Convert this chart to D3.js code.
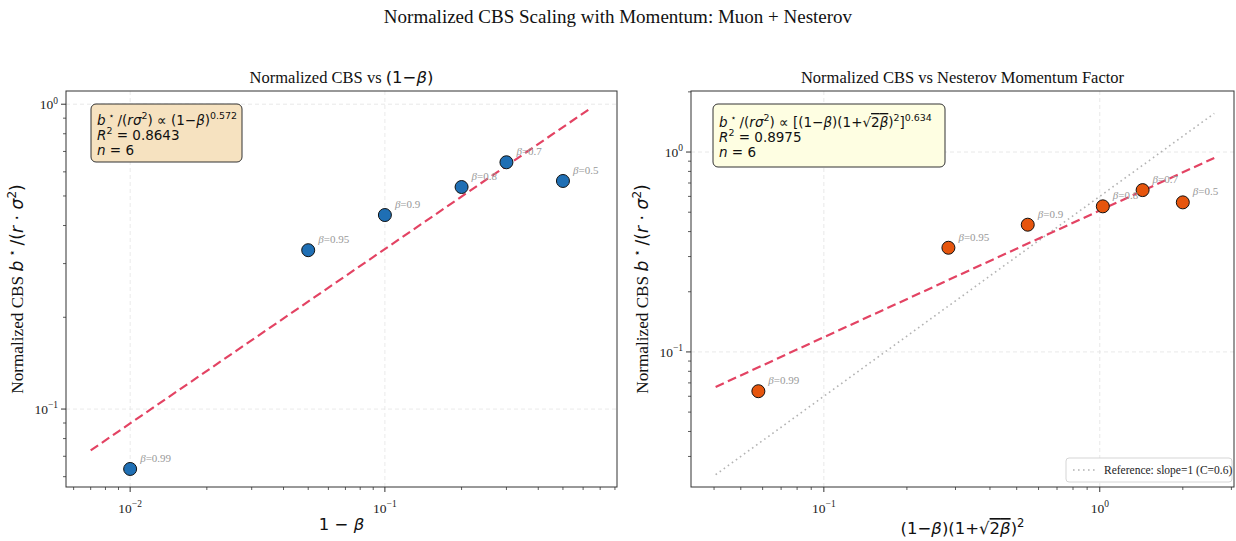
<!DOCTYPE html>
<html>
<head>
<meta charset="utf-8">
<script src="https://cdn.jsdelivr.net/npm/d3@7"></script>
<style>
  body { margin: 0; background: #fff; }
  svg { display: block; }
</style>
</head>
<body>
<div id="chart"></div>
<script>
// données
var betas = [0.99, 0.95, 0.9, 0.8, 0.7, 0.5];
var oneMinusBeta = [0.01, 0.05, 0.1, 0.2, 0.3, 0.5];
var nesterovFactor = [0.0579, 0.2828, 0.5483, 1.026, 1.430, 2.0];
var cbsNorm = [0.0636, 0.332, 0.433, 0.535, 0.645, 0.560];

// ajustements en loi de puissance (exposant, coefficient)
var fitLeft = [0.572, 1.25];
var fitRight = [0.634, 0.51];
var refC = 0.6;
var r2Left = "0.8643", r2Right = "0.8975";

var width = 1236, height = 541;
var serif = "'Liberation Serif', 'Times New Roman', serif";
var mathFont = "'DejaVu Sans', sans-serif";

var svg = d3.select("#chart").append("svg")
    .attr("width", width)
    .attr("height", height);

// petit helper pour écrire du texte "mathtext" avec des tspans
function rich(text, parts, size) {
    var shift = 0;
    parts.forEach(function (p) {
        var ts = text.append("tspan").text(p.t);
        var target = p.sup ? -size * 0.42 : 0;
        if (target !== shift) { ts.attr("dy", target - shift); shift = target; }
        ts.attr("font-size", p.sup ? size * 0.7 : size);
        if (p.i) ts.attr("font-style", "italic");
        if (p.f) ts.attr("font-family", p.f);
        if (p.over) ts.attr("text-decoration", "overline");
    });
}

// titre général
svg.append("text")
    .attr("x", 618).attr("y", 23)
    .attr("text-anchor", "middle")
    .attr("font-family", serif)
    .attr("font-size", 19)
    .attr("fill", "#111")
    .text("Normalized CBS Scaling with Momentum: Muon + Nesterov");

function powLine(fit, x) { return fit[1] * Math.pow(x, fit[0]); }

function drawPanel(cfg) {
    var g = svg.append("g");
    var x = d3.scaleLog().domain(cfg.xDomain).range([cfg.left, cfg.right]);
    var y = d3.scaleLog().domain(cfg.yDomain).range([cfg.bottom, cfg.top]);

    var clipId = "clip" + cfg.id;
    svg.append("clipPath").attr("id", clipId)
        .append("rect")
        .attr("x", cfg.left).attr("y", cfg.top)
        .attr("width", cfg.right - cfg.left).attr("height", cfg.bottom - cfg.top);

    // grille (décades seulement)
    g.selectAll(".gx").data(cfg.xMajor).join("line")
        .attr("x1", d => x(d)).attr("x2", d => x(d))
        .attr("y1", cfg.top).attr("y2", cfg.bottom)
        .attr("stroke", "#e3e3e3").attr("stroke-width", 0.8)
        .attr("stroke-dasharray", "4,3");
    g.selectAll(".gy").data(cfg.yMajor).join("line")
        .attr("y1", d => y(d)).attr("y2", d => y(d))
        .attr("x1", cfg.left).attr("x2", cfg.right)
        .attr("stroke", "#e3e3e3").attr("stroke-width", 0.8)
        .attr("stroke-dasharray", "4,3");

    var plot = g.append("g").attr("clip-path", "url(#" + clipId + ")");
    var lo = d3.min(cfg.xs) * 0.7, hi = d3.max(cfg.xs) * 1.3;

    // ligne de référence (pente 1)
    if (cfg.ref) {
        plot.append("path")
            .datum([lo, hi])
            .attr("d", d3.line().x(d => x(d)).y(d => y(refC * d)))
            .attr("fill", "none")
            .attr("stroke", "#b3b3b3")
            .attr("stroke-width", 1.6)
            .attr("stroke-dasharray", "1.6,3.4");
    }

    // droite ajustée
    plot.append("path")
        .datum([lo, hi])
        .attr("d", d3.line().x(d => x(d)).y(d => y(powLine(cfg.fit, d))))
        .attr("fill", "none")
        .attr("stroke", "#e34363")
        .attr("stroke-width", 2.2)
        .attr("stroke-dasharray", "9,4.5");

    // points
    var pts = cfg.xs.map(function (v, i) { return { x: v, y: cbsNorm[i], b: betas[i] }; });
    plot.selectAll("circle").data(pts).join("circle")
        .attr("cx", d => x(d.x)).attr("cy", d => y(d.y))
        .attr("r", 6.5)
        .attr("fill", cfg.color)
        .attr("stroke", "#111")
        .attr("stroke-width", 1);

    // étiquettes beta
    pts.forEach(function (d) {
        var t = g.append("text")
            .attr("x", x(d.x) + 10).attr("y", y(d.y) - 7)
            .attr("fill", "#999")
            .attr("font-family", serif);
        rich(t, [{ t: "β", i: true }, { t: "=" + d.b }], 11);
    });

    // ticks
    function logTicks(dom) {
        var out = [];
        var e0 = Math.floor(Math.log10(dom[0])), e1 = Math.ceil(Math.log10(dom[1]));
        for (var e = e0; e <= e1; e++) {
            for (var m = 1; m < 10; m++) {
                var v = m * Math.pow(10, e);
                if (v >= dom[0] && v <= dom[1]) out.push({ v: v, major: m === 1, e: e });
            }
        }
        return out;
    }
    var tx = logTicks(cfg.xDomain), ty = logTicks(cfg.yDomain);
    g.selectAll(".tx").data(tx).join("line")
        .attr("x1", d => x(d.v)).attr("x2", d => x(d.v))
        .attr("y1", cfg.bottom).attr("y2", d => cfg.bottom + (d.major ? 5 : 3))
        .attr("stroke", "#333").attr("stroke-width", d => d.major ? 1 : 0.8);
    g.selectAll(".ty").data(ty).join("line")
        .attr("y1", d => y(d.v)).attr("y2", d => y(d.v))
        .attr("x1", cfg.left).attr("x2", d => cfg.left - (d.major ? 5 : 3))
        .attr("stroke", "#333").attr("stroke-width", d => d.major ? 1 : 0.8);

    tx.filter(d => d.major).forEach(function (d) {
        var t = g.append("text")
            .attr("x", x(d.v)).attr("y", cfg.bottom + 26)
            .attr("text-anchor", "middle")
            .attr("font-family", serif).attr("fill", "#222");
        rich(t, [{ t: "10" }, { t: (d.e < 0 ? "−" : "") + Math.abs(d.e), sup: true }], 13.5);
    });
    ty.filter(d => d.major).forEach(function (d) {
        var t = g.append("text")
            .attr("x", cfg.left - 8).attr("y", y(d.v) + 5)
            .attr("text-anchor", "end")
            .attr("font-family", serif).attr("fill", "#222");
        rich(t, [{ t: "10" }, { t: (d.e < 0 ? "−" : "") + Math.abs(d.e), sup: true }], 13.5);
    });

    // cadre
    g.append("rect")
        .attr("x", cfg.left).attr("y", cfg.top)
        .attr("width", cfg.right - cfg.left).attr("height", cfg.bottom - cfg.top)
        .attr("fill", "none").attr("stroke", "#333").attr("stroke-width", 1);

    // titre du panneau
    var tt = g.append("text")
        .attr("x", (cfg.left + cfg.right) / 2).attr("y", 83)
        .attr("text-anchor", "middle")
        .attr("font-family", serif).attr("fill", "#111");
    rich(tt, cfg.title, 16.5);

    // label y
    var yl = g.append("text")
        .attr("transform", "translate(" + (cfg.left - 43) + "," + ((cfg.top + cfg.bottom) / 2) + ") rotate(-90)")
        .attr("text-anchor", "middle")
        .attr("font-family", serif).attr("fill", "#111");
    rich(yl, [
        { t: "Normalized CBS " },
        { t: "b", i: true, f: mathFont },
        { t: " ⋆ ", sup: true, f: mathFont },
        { t: "/(", f: mathFont },
        { t: "r", i: true, f: mathFont },
        { t: " · ", f: mathFont },
        { t: "σ", i: true, f: mathFont },
        { t: "2", sup: true, f: mathFont },
        { t: ")", f: mathFont }
    ], 17.2);

    // label x
    var xl = g.append("text")
        .attr("x", (cfg.left + cfg.right) / 2).attr("y", cfg.xLabelY)
        .attr("text-anchor", "middle")
        .attr("font-family", mathFont).attr("fill", "#111");
    rich(xl, cfg.xLabel, 16.5);

    // boîte d'annotation
    var bx = cfg.box;
    g.append("rect")
        .attr("x", bx[0]).attr("y", bx[1]).attr("width", bx[2]).attr("height", bx[3])
        .attr("rx", 5)
        .attr("fill", cfg.boxFill)
        .attr("stroke", "#333").attr("stroke-width", 1);
    var lines = [cfg.boxLine1,
        [{ t: "R", i: true }, { t: "2", sup: true }, { t: " = " + cfg.r2 }],
        [{ t: "n", i: true }, { t: " = 6" }]];
    lines.forEach(function (parts, i) {
        var t = g.append("text")
            .attr("x", bx[0] + 6).attr("y", cfg.boxBase[i])
            .attr("font-family", mathFont).attr("fill", "#111");
        rich(t, parts, 13.5);
    });

    // légende
    if (cfg.ref) {
        var lg = g.append("g");
        lg.append("rect")
            .attr("x", 1066).attr("y", 458).attr("width", 166).attr("height", 24)
            .attr("rx", 3).attr("fill", "#fff").attr("stroke", "#d5d5d5");
        lg.append("line")
            .attr("x1", 1073).attr("x2", 1098).attr("y1", 470).attr("y2", 470)
            .attr("stroke", "#b3b3b3").attr("stroke-width", 1.6)
            .attr("stroke-dasharray", "1.6,3.4");
        lg.append("text")
            .attr("x", 1104).attr("y", 474)
            .attr("font-family", serif).attr("font-size", 11.5).attr("fill", "#222")
            .text("Reference: slope=1 (C=0.6)");
    }
}

var leftBox1 = [
    { t: "b", i: true }, { t: " ⋆ ", sup: true }, { t: "/(" }, { t: "rσ", i: true }, { t: "2", sup: true },
    { t: ") ∝ (1−" }, { t: "β", i: true }, { t: ")" }, { t: String(fitLeft[0]), sup: true }
];
var rightBox1 = [
    { t: "b", i: true }, { t: " ⋆ ", sup: true }, { t: "/(" }, { t: "rσ", i: true }, { t: "2", sup: true },
    { t: ") ∝ [(1−" }, { t: "β", i: true }, { t: ")(1+√" }, { t: "2", over: true }, { t: "β", i: true, over: true },
    { t: ")" }, { t: "2", sup: true }, { t: "]" }, { t: String(fitRight[0]), sup: true }
];

drawPanel({
    id: "L", left: 66, right: 617, top: 91, bottom: 487,
    xDomain: [0.0056, 0.815], yDomain: [0.0555, 1.105],
    xMajor: [0.01, 0.1], yMajor: [0.1, 1],
    xs: oneMinusBeta, fit: fitLeft, color: "#1f6fb4", ref: false,
    title: [{ t: "Normalized CBS vs " }, { t: "(1−", f: mathFont }, { t: "β", i: true, f: mathFont }, { t: ")", f: mathFont }],
    xLabel: [{ t: "1 − " }, { t: "β", i: true }], xLabelY: 530,
    box: [91, 104, 151, 58], boxFill: "#f6e2c0", boxBase: [125, 140, 155],
    boxLine1: leftBox1, r2: r2Left
});

drawPanel({
    id: "R", left: 691, right: 1234, top: 91, bottom: 487,
    xDomain: [0.033, 3.066], yDomain: [0.0211, 2.02],
    xMajor: [0.1, 1], yMajor: [0.1, 1],
    xs: nesterovFactor, fit: fitRight, color: "#e6550d", ref: true,
    title: [{ t: "Normalized CBS vs Nesterov Momentum Factor" }],
    xLabel: [{ t: "(1−" }, { t: "β", i: true }, { t: ")(1+√" }, { t: "2", over: true }, { t: "β", i: true, over: true },
        { t: ")" }, { t: "2", sup: true }], xLabelY: 534,
    box: [713, 104, 232, 63], boxFill: "#fefee2", boxBase: [127, 142, 157],
    boxLine1: rightBox1, r2: r2Right
});
</script>
</body>
</html>
